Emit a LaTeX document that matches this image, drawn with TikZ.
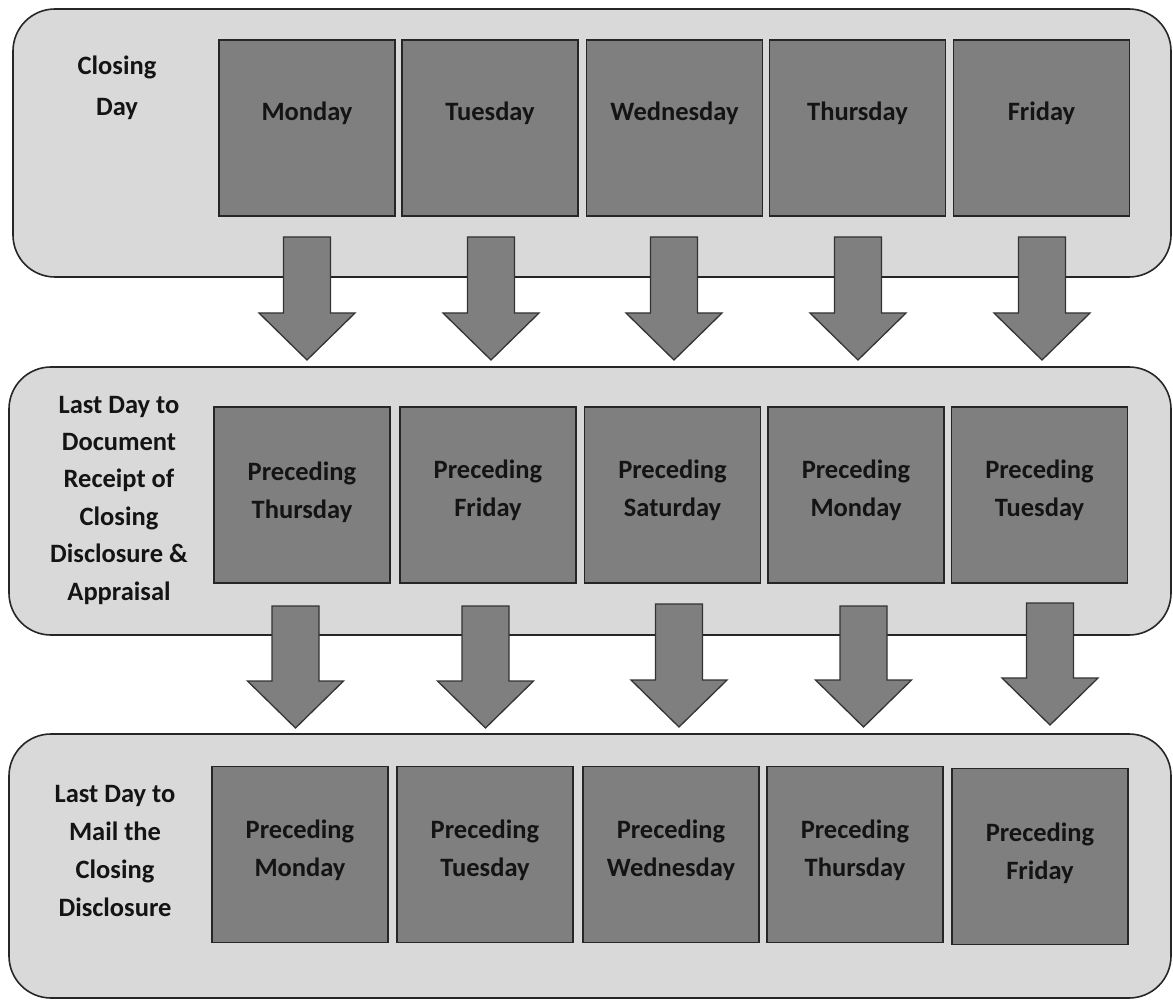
\documentclass[tikz,border=0pt]{standalone}
\usepackage{fontspec}
\setmainfont{Carlito}
\begin{document}
\begin{tikzpicture}[x=1pt,y=-1pt,
  panel/.style={draw=black!85,line width=1.6pt,fill=panelgray,rounded corners=42pt},
  daybox/.style={draw=black!85,line width=1.6pt,fill=boxgray,minimum width=176pt,minimum height=176pt,inner sep=0pt},
  daytext/.style={font=\bfseries\fontsize{26.5}{38}\selectfont,text=black!92,align=center,inner sep=0pt},
  sidetext/.style={font=\bfseries\fontsize{26.5}{#1}\selectfont,text=black!92,align=center,inner sep=0pt},
  blockarrow/.style={draw=black!80,line width=1.3pt,fill=boxgray,line join=miter}]
\definecolor{panelgray}{HTML}{D9D9D9}
\definecolor{boxgray}{HTML}{7F7F7F}
\useasboundingbox (0,0) rectangle (1173,1000);

% panels
\draw[panel] (13,9) rectangle (1171,277);
\draw[panel] (9,367) rectangle (1171,635);
\draw[panel] (9,734) rectangle (1171,998);

% side labels
\node[sidetext=40.5] (l1) at (117,88) {Closing\\Day};
\node[sidetext=37.4] (l2) at (119,500) {Last Day to\\Document\\Receipt of\\Closing\\Disclosure \&\\Appraisal};
\node[sidetext=38] (l3) at (115,851) {Last Day to\\Mail the\\Closing\\Disclosure};

% row 1 boxes
\node[daybox] (a1) at (307,128) {};
\node[daybox] (a2) at (490,128) {};
\node[daybox] (a3) at (674.5,128) {};
\node[daybox] (a4) at (857.5,128) {};
\node[daybox] (a5) at (1041.5,128) {};
\node[daytext] (ta1) at (307,113) {Monday};
\node[daytext] (ta2) at (490,113) {Tuesday};
\node[daytext] (ta3) at (674.5,113) {Wednesday};
\node[daytext] (ta4) at (857.5,113) {Thursday};
\node[daytext] (ta5) at (1041.5,113) {Friday};

% row 2 boxes
\node[daybox] (b1) at (302,495) {};
\node[daybox] (b2) at (488,495) {};
\node[daybox] (b3) at (672.5,495) {};
\node[daybox] (b4) at (856,495) {};
\node[daybox] (b5) at (1039.5,495) {};
\node[daytext] (tb1) at (302,492) {Preceding\\Thursday};
\node[daytext] (tb2) at (488,490) {Preceding\\Friday};
\node[daytext] (tb3) at (672.5,490) {Preceding\\Saturday};
\node[daytext] (tb4) at (856,490) {Preceding\\Monday};
\node[daytext] (tb5) at (1039.5,490) {Preceding\\Tuesday};

% row 3 boxes
\node[daybox] (c1) at (300,854.5) {};
\node[daybox] (c2) at (485,854.5) {};
\node[daybox] (c3) at (671,854.5) {};
\node[daybox] (c4) at (855,854.5) {};
\node[daybox] (c5) at (1040,856.5) {};
\node[daytext] (tc1) at (300,850) {Preceding\\Monday};
\node[daytext] (tc2) at (485,850) {Preceding\\Tuesday};
\node[daytext] (tc3) at (671,850) {Preceding\\Wednesday};
\node[daytext] (tc4) at (855,850) {Preceding\\Thursday};
\node[daytext] (tc5) at (1040,853) {Preceding\\Friday};

% block arrows: #1 centre x, #2 top y, #3 tip y
\newcommand{\blockarr}[3]{%
  \draw[blockarrow] (#1-23.5,#2) -- (#1+23.5,#2) -- (#1+23.5,#3-47) -- (#1+48,#3-47)
    -- (#1,#3) -- (#1-48,#3-47) -- (#1-23.5,#3-47) -- cycle;}
\blockarr{307}{237}{360}
\blockarr{491}{237}{360}
\blockarr{674}{237}{360}
\blockarr{858}{237}{360}
\blockarr{1042}{237}{360}

\blockarr{295.5}{606}{728}
\blockarr{485.5}{606}{728}
\blockarr{679}{604}{727}
\blockarr{863.5}{606}{727}
\blockarr{1050}{603}{725}
\end{tikzpicture}
\end{document}
